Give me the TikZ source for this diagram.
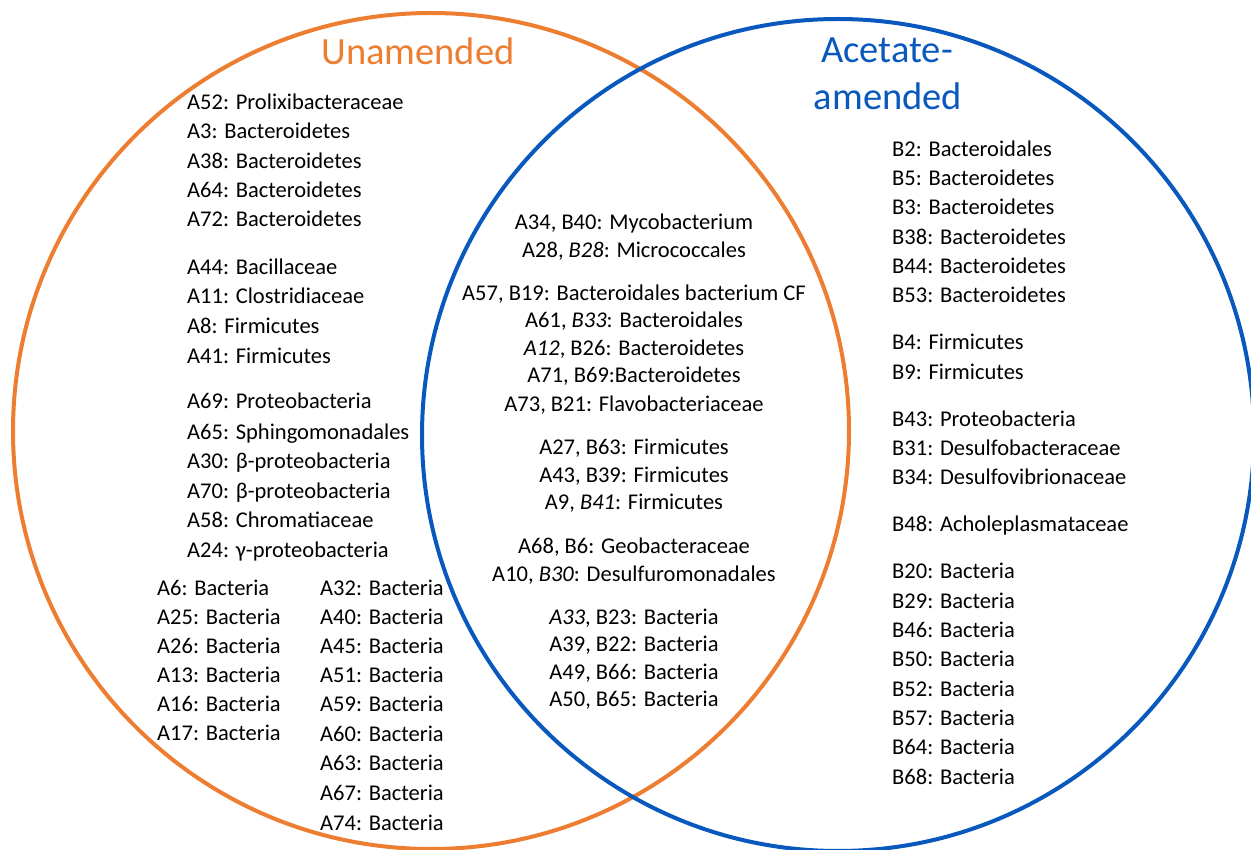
\documentclass[tikz,border=0pt]{standalone}
\usepackage{fontspec}
\setmainfont{Carlito}
\definecolor{orng}{RGB}{237,125,49}
\definecolor{blu}{RGB}{8,88,190}
\begin{document}
\begin{tikzpicture}[x=1pt,y=-1pt,
  lbl/.style={font=\fontsize{22.5}{22.5}\selectfont, inner sep=0pt, anchor=base west, text=black, yshift=-2pt},
  mid/.style={lbl, anchor=base},
  ttl/.style={font=\fontsize{38.5}{38.5}\selectfont, inner sep=0pt, anchor=base},
  ring/.style={line width=4pt}]
\useasboundingbox (0,0) rectangle (1251,850);
% circles
\draw[ring, orng] (431,431) circle[radius=418];
\draw[ring, blu] (838,435) circle[radius=416];
% titles
\node[ttl, text=orng] (tA) at (418,65) {Unamended};
\node[ttl, text=blu] (tB1) at (887,63) {Acetate-};
\node[ttl, text=blu] (tB2) at (888,110) {amended};
% unamended only
\node[lbl] (a52) at (187,108) {A52: Prolixibacteraceae};
\node[lbl] (a3)  at (187,137) {A3: Bacteroidetes};
\node[lbl] (a38) at (187,167) {A38: Bacteroidetes};
\node[lbl] (a64) at (187,196) {A64: Bacteroidetes};
\node[lbl] (a72) at (187,225) {A72: Bacteroidetes};
\node[lbl] (a44) at (187,273) {A44: Bacillaceae};
\node[lbl] (a11) at (187,302) {A11: Clostridiaceae};
\node[lbl] (a8)  at (187,332) {A8: Firmicutes};
\node[lbl] (a41) at (187,361) {A41: Firmicutes};
\node[lbl] (a69) at (187,407) {A69: Proteobacteria};
\node[lbl] (a65) at (187,437) {A65: Sphingomonadales};
\node[lbl] (a30) at (187,466) {A30: β-proteobacteria};
\node[lbl] (a70) at (187,496) {A70: β-proteobacteria};
\node[lbl] (a58) at (187,525) {A58: Chromatiaceae};
\node[lbl] (a24) at (187,555) {A24: γ-proteobacteria};
\node[lbl] (a6)  at (157,593) {A6: Bacteria};
\node[lbl] (a25) at (157,622) {A25: Bacteria};
\node[lbl] (a26) at (157,651) {A26: Bacteria};
\node[lbl] (a13) at (157,680) {A13: Bacteria};
\node[lbl] (a16) at (157,709) {A16: Bacteria};
\node[lbl] (a17) at (157,738) {A17: Bacteria};
\node[lbl] (a32) at (320,593) {A32: Bacteria};
\node[lbl] (a40) at (320,622) {A40: Bacteria};
\node[lbl] (a45) at (320,651) {A45: Bacteria};
\node[lbl] (a51) at (320,680) {A51: Bacteria};
\node[lbl] (a59) at (320,709) {A59: Bacteria};
\node[lbl] (a60) at (320,739) {A60: Bacteria};
\node[lbl] (a63) at (320,768) {A63: Bacteria};
\node[lbl] (a67) at (320,798) {A67: Bacteria};
\node[lbl] (a74) at (320,828) {A74: Bacteria};
% shared
\node[mid] (m1)  at (634,228) {A34, B40: Mycobacterium};
\node[mid] (m2)  at (634,256) {A28, \textit{B28}: Micrococcales};
\node[mid] (m3)  at (634,299) {A57, B19: Bacteroidales bacterium CF};
\node[mid] (m4)  at (634,326) {A61, \textit{B33}: Bacteroidales};
\node[mid] (m5)  at (634,354) {\textit{A12}, B26: Bacteroidetes};
\node[mid] (m6)  at (634,381) {A71, B69:Bacteroidetes};
\node[mid] (m7)  at (634,409) {A73, B21: Flavobacteriaceae};
\node[mid] (m8)  at (634,452) {A27, B63: Firmicutes};
\node[mid] (m9)  at (634,480) {A43, B39: Firmicutes};
\node[mid] (m10) at (634,507) {A9, \textit{B41}: Firmicutes};
\node[mid] (m11) at (634,551) {A68, B6: Geobacteraceae};
\node[mid] (m12) at (634,579) {A10, \textit{B30}: Desulfuromonadales};
\node[mid] (m13) at (634,622) {\textit{A33}, B23: Bacteria};
\node[mid] (m14) at (634,649) {A39, B22: Bacteria};
\node[mid] (m15) at (634,677) {A49, B66: Bacteria};
\node[mid] (m16) at (634,704) {A50, B65: Bacteria};
% acetate-amended only
\node[lbl] (b2)  at (892,155) {B2: Bacteroidales};
\node[lbl] (b5)  at (892,184) {B5: Bacteroidetes};
\node[lbl] (b3)  at (892,213) {B3: Bacteroidetes};
\node[lbl] (b38) at (892,243) {B38: Bacteroidetes};
\node[lbl] (b44) at (892,272) {B44: Bacteroidetes};
\node[lbl] (b53) at (892,301) {B53: Bacteroidetes};
\node[lbl] (b4)  at (892,348) {B4: Firmicutes};
\node[lbl] (b9)  at (892,378) {B9: Firmicutes};
\node[lbl] (b43) at (892,424) {B43: Proteobacteria};
\node[lbl] (b31) at (892,453) {B31: Desulfobacteraceae};
\node[lbl] (b34) at (892,482) {B34: Desulfovibrionaceae};
\node[lbl] (b48) at (892,529) {B48: Acholeplasmataceae};
\node[lbl] (b20) at (892,576) {B20: Bacteria};
\node[lbl] (b29) at (892,606) {B29: Bacteria};
\node[lbl] (b46) at (892,635) {B46: Bacteria};
\node[lbl] (b50) at (892,664) {B50: Bacteria};
\node[lbl] (b52) at (892,694) {B52: Bacteria};
\node[lbl] (b57) at (892,723) {B57: Bacteria};
\node[lbl] (b64) at (892,752) {B64: Bacteria};
\node[lbl] (b68) at (892,782) {B68: Bacteria};
\end{tikzpicture}
\end{document}
